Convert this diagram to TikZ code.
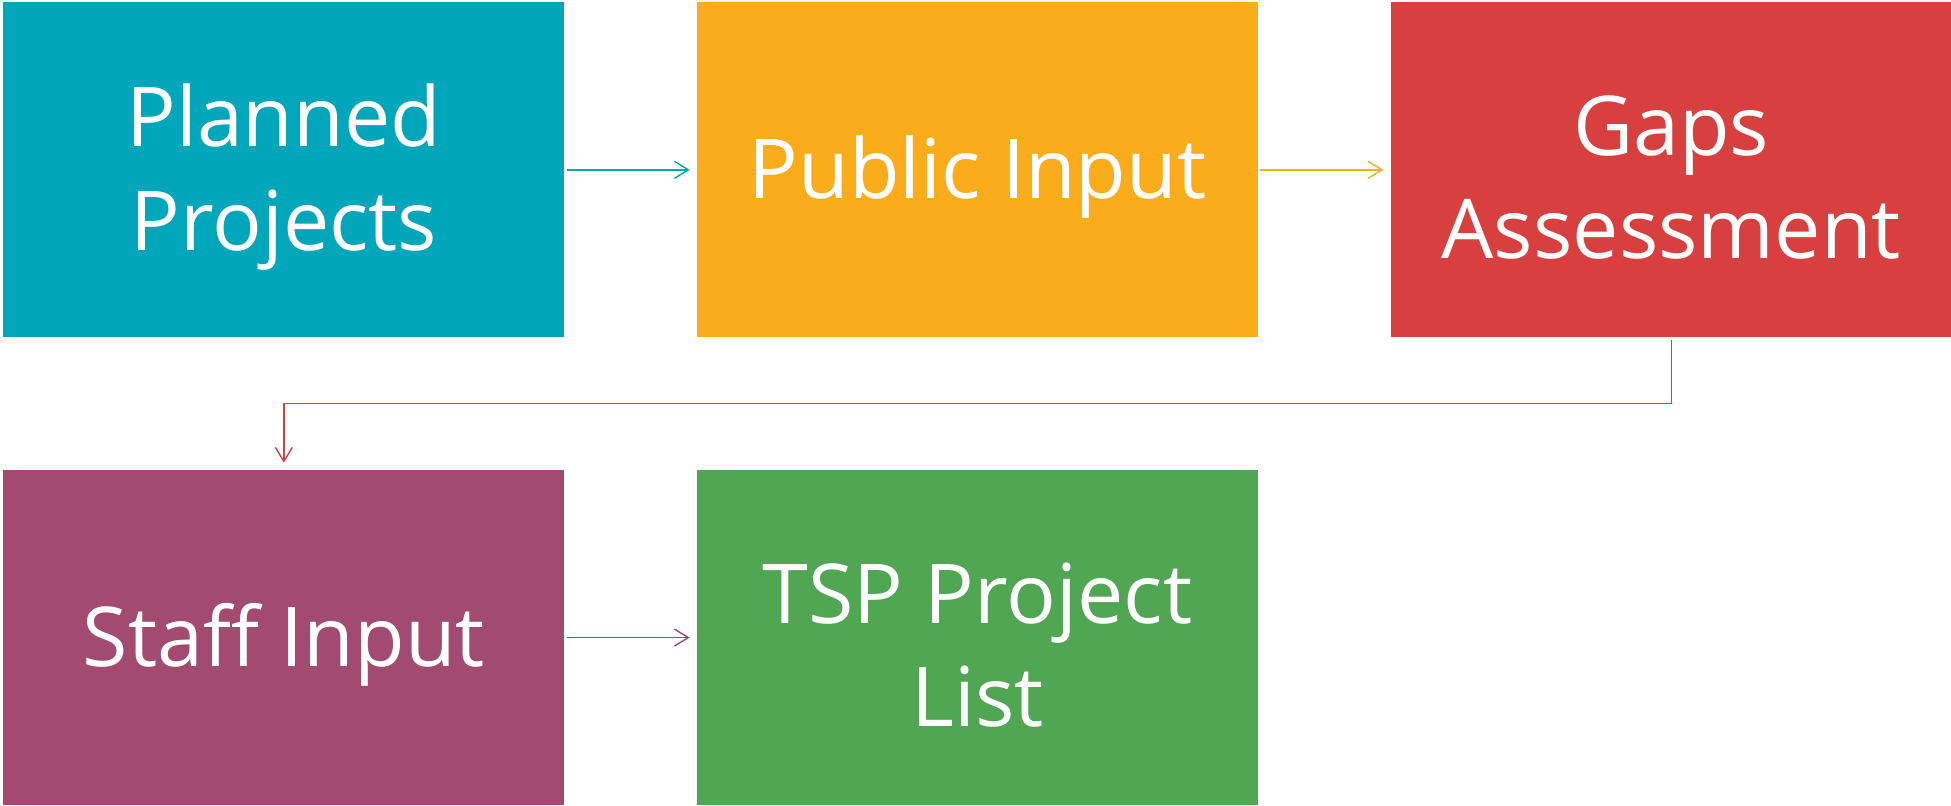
\documentclass[tikz,border=0pt]{standalone}
\usepackage{fontspec}
\setmainfont{Open Sans}
\usetikzlibrary{positioning, arrows.meta}
\definecolor{stageteal}{RGB}{1,166,186}
\definecolor{stageorange}{RGB}{251,172,27}
\definecolor{stagered}{RGB}{216,64,64}
\definecolor{stageplum}{RGB}{162,74,111}
\definecolor{stagegreen}{RGB}{80,166,82}
\tikzstyle{stage} = [minimum width=11.22cm, minimum height=6.7cm, inner sep=0pt]
\tikzstyle{caption} = [text=white, align=center, yshift=-0.15cm, font=\fontsize{47}{59}\selectfont]
\tikzstyle{link} = [-{Straight Barb[length=0.28cm, width=0.34cm]}, line width=0.8pt, shorten <=0.04cm, shorten >=0.14cm]

\begin{document}
\begin{tikzpicture}
        \useasboundingbox (0,0) rectangle (39.02,-16.12);
        \node (plan) [stage, fill=stageteal, anchor=north west, label={[caption]center:Planned\\Projects}] at (0.06,-0.04) {};
        \node (public) [stage, fill=stageorange, right=2.64cm of plan, label={[caption]center:Public Input}] {};
        \node (gaps) [stage, fill=stagered, right=2.64cm of public, label={[caption]center:Gaps\\Assessment}] {};
        \node (staff) [stage, fill=stageplum, below=2.64cm of plan, label={[caption]center:Staff Input}] {};
        \node (tsp) [stage, fill=stagegreen, right=2.64cm of staff, label={[caption]center:TSP Project\\List}] {};
        \draw [link, stageteal] (plan) -- (public);
        \draw [link, stageorange] (public) -- (gaps);
        \draw [link, stagered] (gaps.south) -- ++(0,-1.32) -| (staff.north);
        \draw [link, stageplum] (staff) -- (tsp);
    \end{tikzpicture}
\end{document}
